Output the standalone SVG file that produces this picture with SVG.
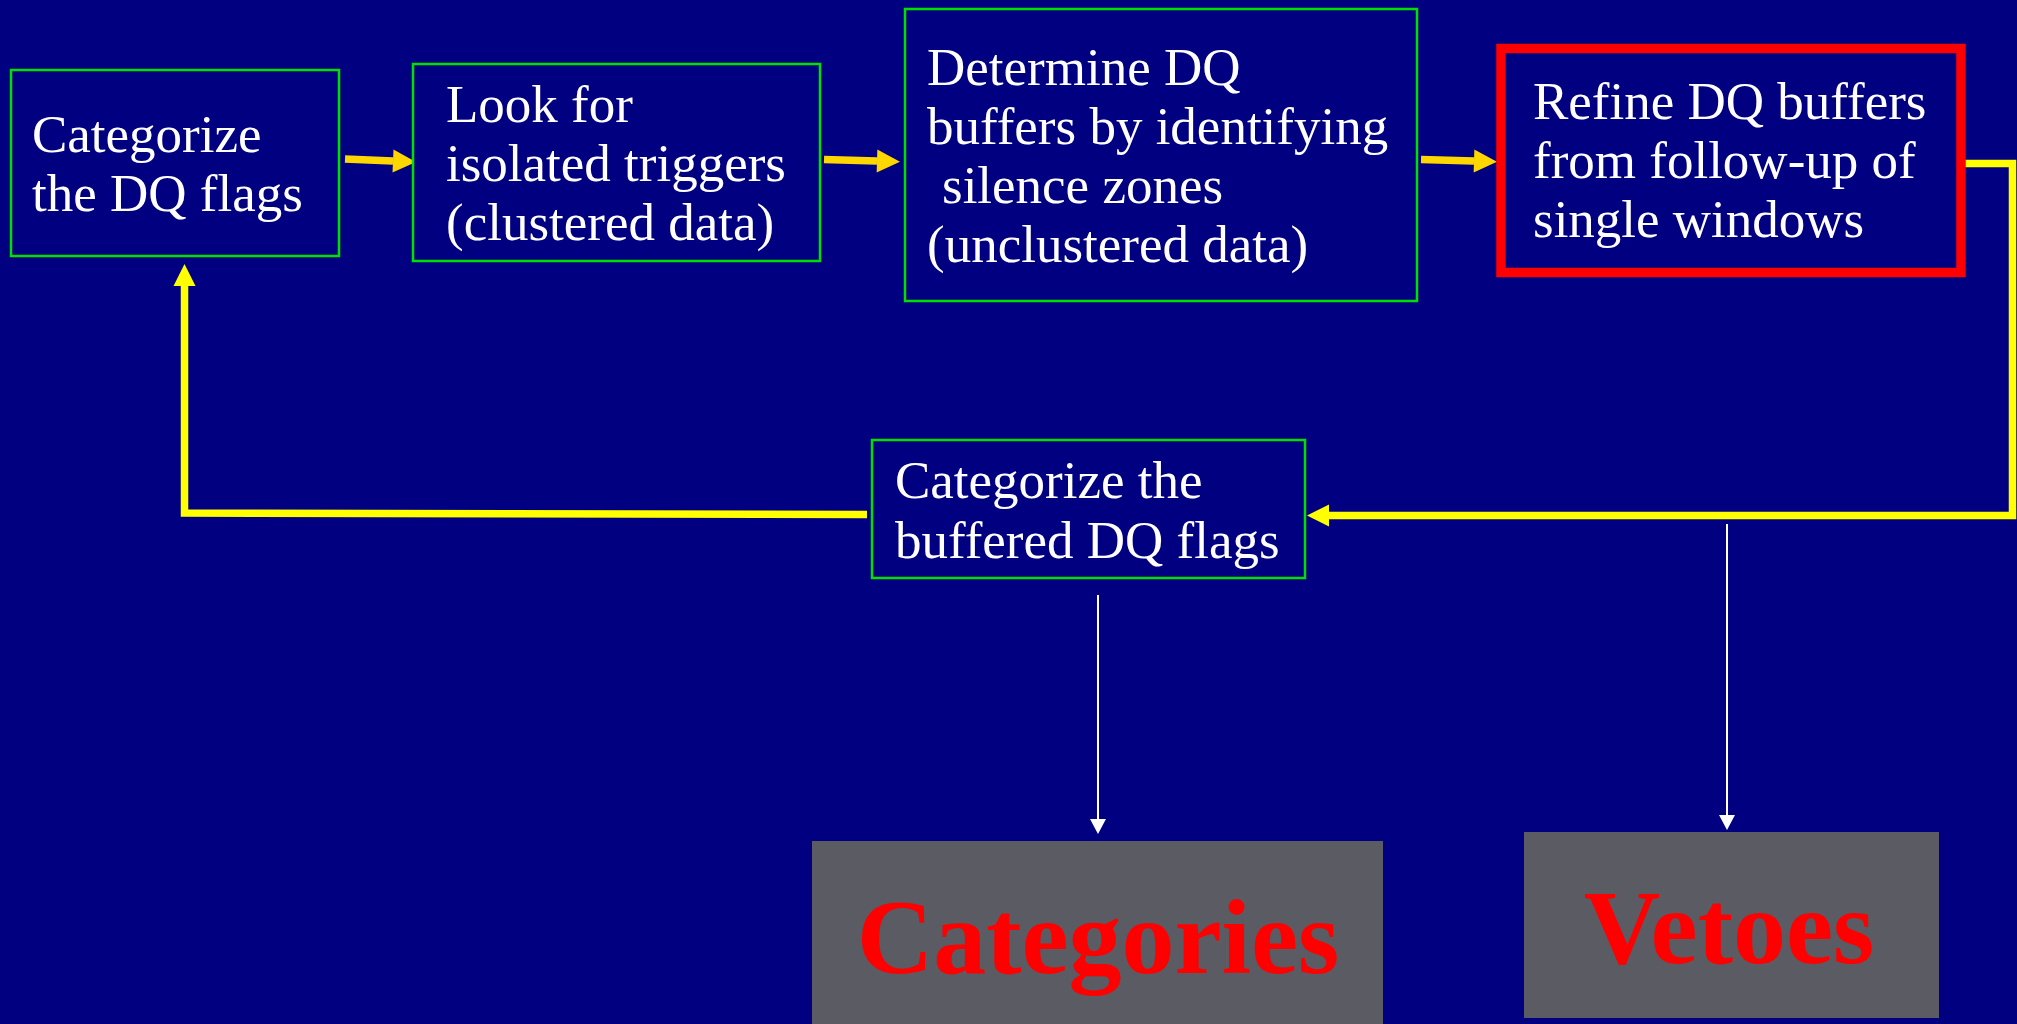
<svg xmlns="http://www.w3.org/2000/svg" width="2017" height="1024" viewBox="0 0 2017 1024">
<defs>
<style>
.box{fill:#000080;stroke:#00E000;stroke-width:2.5}
.t{font-family:"Liberation Serif","Times New Roman",serif;font-size:53px;fill:#FFFFFF}
.big{font-family:"Liberation Serif","Times New Roman",serif;font-size:106px;font-weight:bold;fill:#FF0000;text-anchor:middle}
.out{fill:#5B5B63}
.gold{fill:none;stroke:#FFD700;stroke-width:7.5}
.yel{fill:none;stroke:#FFFF00;stroke-width:7.5;stroke-linejoin:miter}
.wht{fill:none;stroke:#FFFFFF;stroke-width:2}
</style>
<marker id="hg" markerUnits="userSpaceOnUse" markerWidth="24" markerHeight="24" refX="0" refY="12" orient="auto" overflow="visible">
<path d="M0,0.5 L23,12 L0,23.5 Z" fill="#FFD700"/>
</marker>
<marker id="hy" markerUnits="userSpaceOnUse" markerWidth="24" markerHeight="24" refX="0" refY="11" orient="auto" overflow="visible">
<path d="M0,0 L22,11 L0,22 Z" fill="#FFFF00"/>
</marker>
<marker id="hw" markerUnits="userSpaceOnUse" markerWidth="16" markerHeight="16" refX="0" refY="8" orient="auto" overflow="visible">
<path d="M0,0 L15,8 L0,16 Z" fill="#FFFFFF"/>
</marker>
</defs>
<rect x="0" y="0" width="2017" height="1024" fill="#000080"/>

<g id="connectors">
<path class="gold" d="M345,159 L393,161" marker-end="url(#hg)"/>
<path class="gold" d="M824,159.5 L877,161" marker-end="url(#hg)"/>
<path class="gold" d="M1421,159.5 L1474,161" marker-end="url(#hg)"/>
<path class="yel" d="M1965,163.5 H2012.5 V515.5 H1329" marker-end="url(#hy)"/>
<path class="yel" d="M867,514.5 L184.5,513 V286" marker-end="url(#hy)"/>
<path class="wht" d="M1098,595 V819" marker-end="url(#hw)"/>
<path class="wht" d="M1727,524 V815" marker-end="url(#hw)"/>
</g>

<g id="n1">
<rect class="box" x="11" y="70" width="328" height="186"/>
<text class="t" x="32" y="152">Categorize</text>
<text class="t" x="32" y="211">the DQ flags</text>
</g>

<g id="n2">
<rect class="box" x="413" y="64" width="407" height="197"/>
<text class="t" x="446" y="122">Look for</text>
<text class="t" x="446" y="181">isolated triggers</text>
<text class="t" x="446" y="240">(clustered data)</text>
</g>

<g id="n3">
<rect class="box" x="905" y="9" width="512" height="292"/>
<text class="t" x="927" y="85">Determine DQ</text>
<text class="t" x="927" y="144">buffers by identifying</text>
<text class="t" x="942" y="203">silence zones</text>
<text class="t" x="927" y="262">(unclustered data)</text>
</g>

<g id="n4">
<rect x="1501" y="48.5" width="460" height="224" fill="#000080" stroke="#FF0000" stroke-width="9.5"/>
<text class="t" x="1533" y="119">Refine DQ buffers</text>
<text class="t" x="1533" y="178">from follow-up of</text>
<text class="t" x="1533" y="237">single windows</text>
</g>

<g id="n5">
<rect class="box" x="872" y="440" width="433" height="138"/>
<text class="t" x="895" y="498">Categorize the</text>
<text class="t" x="895" y="558">buffered DQ flags</text>
</g>

<g id="n6">
<rect class="out" x="812" y="841" width="571" height="183"/>
<text class="big" x="1098" y="973">Categories</text>
</g>

<g id="n7">
<rect class="out" x="1524" y="832" width="415" height="186"/>
<text class="big" x="1729" y="963">Vetoes</text>
</g>
</svg>
